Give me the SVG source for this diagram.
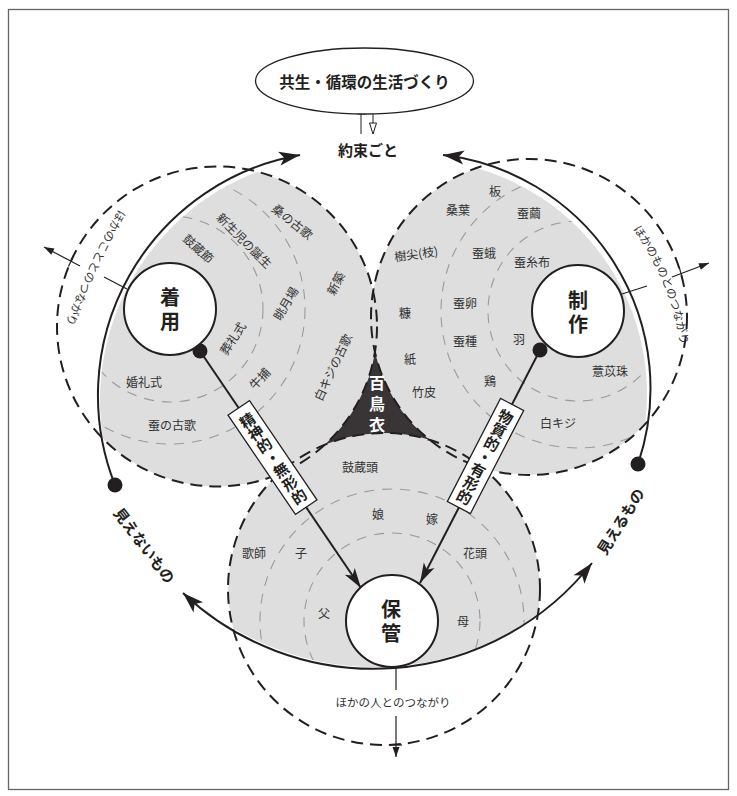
<svg xmlns="http://www.w3.org/2000/svg" width="737" height="796" viewBox="0 0 737 796">
<style>
text { font-family: "Noto Sans CJK JP", "Noto Sans", sans-serif; }
.lbl { font-size: 12px; fill: #333; text-anchor: middle; dominant-baseline: central; }
.node-c { fill: #fff; stroke: #231f20; stroke-width: 2; }
.node-t { font-size: 20px; font-weight: bold; fill: #231f20; text-anchor: middle; dominant-baseline: central; writing-mode: vertical-rl; letter-spacing: 4px; }
.dash { fill: none; stroke: #231f20; stroke-width: 2; stroke-dasharray: 12 7; }
.idash { fill: none; stroke: #9a9a9a; stroke-width: 1.1; stroke-dasharray: 10 8; }
.lobe { fill: #dedede; }
.solid { fill: none; stroke: #231f20; stroke-width: 2; }
.thin { fill: none; stroke: #231f20; stroke-width: 1.2; }
.big { font-size: 15px; font-weight: bold; fill: #231f20; text-anchor: middle; dominant-baseline: central; }
.small { font-size: 11.5px; fill: #333; }
.box { fill: #fff; stroke: #231f20; stroke-width: 1.3; }
.boxt { font-size: 15px; font-weight: bold; fill: #231f20; text-anchor: middle; dominant-baseline: central; }
.dot { fill: #231f20; }
</style>
<defs>
  <marker id="ah" markerUnits="userSpaceOnUse" orient="auto-start-reverse" markerWidth="40" markerHeight="40" viewBox="-30 -20 40 40" refX="0" refY="0" overflow="visible">
    <path d="M0,0 L-21,-7 L-16,0 L-21,7 Z" fill="#231f20"/>
  </marker>
  <marker id="ahm" markerUnits="userSpaceOnUse" orient="auto" markerWidth="40" markerHeight="40" viewBox="-30 -20 40 40" refX="0" refY="0" overflow="visible">
    <path d="M0,0 L-20,-6 L-15,0 L-20,6 Z" fill="#231f20"/>
  </marker>
  <marker id="ahs" markerUnits="userSpaceOnUse" orient="auto" markerWidth="20" markerHeight="20" viewBox="-15 -10 20 20" refX="0" refY="0" overflow="visible">
    <path d="M0,0 L-10,-3.5 L-10,3.5 Z" fill="#231f20"/>
  </marker>
  <clipPath id="clipL"><circle cx="344" cy="400" r="244"/></clipPath>
  <clipPath id="clipR"><circle cx="412" cy="394" r="235"/></clipPath>
  <clipPath id="clipB"><circle cx="375" cy="389" r="278"/></clipPath>
  <clipPath id="clipC1"><circle cx="217" cy="326.5" r="160"/></clipPath>
  <clipPath id="clipC2"><circle cx="529" cy="317" r="158"/></clipPath>
  <clipPath id="clipC3"><circle cx="384" cy="589" r="156"/></clipPath>
  <path id="tpL" d="M124,200 Q88,262 62,334"/>
  <path id="tpR" d="M630,225 Q672,282 681,350"/>
</defs>

<rect x="8.5" y="9.5" width="720" height="780" fill="#fff" stroke="#666" stroke-width="1.3"/>

<!-- lobes -->
<g id="lobe-chakuyou" clip-path="url(#clipL)">
  <g clip-path="url(#clipC1)">
    <circle class="lobe" cx="217" cy="326.5" r="160"/>
    <circle class="idash" cx="170" cy="309" r="93"/>
    <circle class="idash" cx="170" cy="309" r="135"/>
  </g>
</g>
<g id="lobe-seisaku" clip-path="url(#clipR)">
  <g clip-path="url(#clipC2)">
    <circle class="lobe" cx="529" cy="317" r="158"/>
    <circle class="idash" cx="578" cy="311" r="90"/>
    <circle class="idash" cx="578" cy="311" r="137"/>
  </g>
</g>
<g id="lobe-hokan" clip-path="url(#clipB)">
  <g clip-path="url(#clipC3)">
    <circle class="lobe" cx="384" cy="589" r="156"/>
    <circle class="idash" cx="392" cy="621" r="88"/>
    <circle class="idash" cx="392" cy="621" r="132"/>
  </g>
</g>

<g id="node-hyakuchoui">
  <path d="M375,352 A158,158 0 0 0 429.4,439.7 A156,156 0 0 0 325,444.6 A160,160 0 0 0 375,352 Z" fill="#393536"/>
  <text x="377" y="406.5" font-size="16" font-weight="bold" fill="#fff" text-anchor="middle" dominant-baseline="central" writing-mode="vertical-rl" letter-spacing="5">百鳥衣</text>
</g>

<g id="dashed-circles">
  <circle class="dash" cx="217" cy="326.5" r="160"/>
  <circle class="dash" cx="529" cy="317" r="158"/>
  <circle class="dash" cx="384" cy="589" r="156"/>
</g>

<!-- lobe labels -->
<g id="labels-chakuyou">
  <text class="lbl" transform="translate(293,221) rotate(38)">桑の古歌</text>
  <text class="lbl" transform="translate(245,240) rotate(45)">新生児の誕生</text>
  <text class="lbl" transform="translate(199,248) rotate(42)">鼓蔵節</text>
  <text class="lbl" transform="translate(335,283) rotate(-62)">新築</text>
  <text class="lbl" transform="translate(285,303) rotate(-59)">眺月場</text>
  <text class="lbl" transform="translate(332,367) rotate(-65)">白キジの古歌</text>
  <text class="lbl" transform="translate(232,338) rotate(-57)">葬礼式</text>
  <text class="lbl" transform="translate(259,378) rotate(-47)">牛捕</text>
  <text class="lbl" x="144" y="381">婚礼式</text>
  <text class="lbl" x="172" y="424">蚕の古歌</text>
</g>
<g id="labels-seisaku">
  <text class="lbl" x="495" y="190">板</text>
  <text class="lbl" x="458" y="209">桑葉</text>
  <text class="lbl" x="529" y="212">蚕繭</text>
  <text class="lbl" transform="translate(416,253) rotate(-8)">樹尖(枝)</text>
  <text class="lbl" x="484" y="252">蚕蛾</text>
  <text class="lbl" x="532" y="261">蚕糸布</text>
  <text class="lbl" x="465" y="302">蚕卵</text>
  <text class="lbl" x="405" y="312">糠</text>
  <text class="lbl" x="465" y="340">蚕種</text>
  <text class="lbl" x="519" y="338">羽</text>
  <text class="lbl" x="410" y="358">紙</text>
  <text class="lbl" x="490" y="380">鶏</text>
  <text class="lbl" x="424" y="391">竹皮</text>
  <text class="lbl" x="610" y="370">薏苡珠</text>
  <text class="lbl" x="558" y="422">白キジ</text>
</g>
<g id="labels-hokan">
  <text class="lbl" x="360" y="466">鼓蔵頭</text>
  <text class="lbl" x="378" y="513">娘</text>
  <text class="lbl" x="432" y="518">嫁</text>
  <text class="lbl" x="254" y="552">歌師</text>
  <text class="lbl" x="301" y="552">子</text>
  <text class="lbl" x="475" y="552">花頭</text>
  <text class="lbl" x="324" y="612">父</text>
  <text class="lbl" x="463" y="620">母</text>
</g>

<!-- connectors -->
<g id="connectors">
  <path class="solid" d="M115,485 A244,244 0 0 1 300,155" marker-end="url(#ah)"/>
  <path class="solid" d="M638,464 A235,235 0 0 0 443,155" marker-end="url(#ah)"/>
  <path class="solid" d="M183,593 A278,278 0 0 0 592,563" marker-start="url(#ah)" marker-end="url(#ah)"/>
  <circle class="dot" cx="115" cy="485" r="7.5"/>
  <circle class="dot" cx="638" cy="464" r="7.5"/>

  <line class="solid" x1="200" y1="351" x2="361" y2="588" marker-end="url(#ahm)"/>
  <line class="solid" x1="540" y1="350" x2="420" y2="583" marker-end="url(#ahm)"/>
  <circle class="dot" cx="200" cy="351" r="7.5"/>
  <circle class="dot" cx="540" cy="350" r="7.5"/>

  <g transform="translate(272.5,457.5) rotate(-34.2)">
    <rect class="box" x="-13" y="-60" width="26" height="120"/>
    <text class="boxt"><tspan x="0" y="-46">精</tspan><tspan x="0" y="-31">神</tspan><tspan x="0" y="-16">的</tspan><tspan x="0" y="-1">・</tspan><tspan x="0" y="14">無</tspan><tspan x="0" y="30">形</tspan><tspan x="0" y="46">的</tspan></text>
  </g>
  <g transform="translate(485.5,456) rotate(27.3)">
    <rect class="box" x="-13" y="-58" width="26" height="116"/>
    <text class="boxt"><tspan x="0" y="-45">物</tspan><tspan x="0" y="-30">質</tspan><tspan x="0" y="-15">的</tspan><tspan x="0" y="0">・</tspan><tspan x="0" y="15">有</tspan><tspan x="0" y="30">形</tspan><tspan x="0" y="45">的</tspan></text>
  </g>

  <!-- other links -->
  <line class="thin" x1="127" y1="289" x2="104" y2="277"/>
  <line class="thin" x1="80" y1="266" x2="44" y2="247" marker-end="url(#ahs)"/>
  <line class="thin" x1="68.5" y1="266.5" x2="73.5" y2="255.5"/>
  <line class="thin" x1="622" y1="294" x2="647" y2="286"/>
  <line class="thin" x1="672" y1="277" x2="709" y2="263" marker-end="url(#ahs)"/>
  <line class="thin" x1="679.4" y1="267.8" x2="682.6" y2="279.4"/>
  <line class="thin" x1="396" y1="668" x2="396" y2="690"/>
  <line class="thin" x1="396" y1="716" x2="396" y2="757" marker-end="url(#ahs)"/>
  <line class="thin" x1="390" y1="745" x2="402" y2="745"/>

  <!-- title arrows -->
  <line x1="361" y1="134" x2="361" y2="108" stroke="#231f20" stroke-width="1"/>
  <polygon points="361,103 357.5,114 364.5,114" fill="#fff" stroke="#231f20" stroke-width="1"/>
  <line x1="373" y1="103" x2="373" y2="128" stroke="#231f20" stroke-width="1"/>
  <polygon points="373,134 369.5,123 376.5,123" fill="#fff" stroke="#231f20" stroke-width="1"/>
</g>

<!-- nodes -->
<g id="node-title">
  <ellipse cx="364.5" cy="81" rx="109" ry="33" fill="#fff" stroke="#231f20" stroke-width="1.3"/>
  <text x="364.5" y="81" font-size="15.5" font-weight="bold" fill="#231f20" text-anchor="middle" dominant-baseline="central">共生・循環の生活づくり</text>
</g>
<g id="node-yakusoku">
  <text x="368" y="149" font-size="15" font-weight="bold" fill="#231f20" text-anchor="middle" dominant-baseline="central">約束ごと</text>
</g>
<g id="node-chakuyou">
  <circle class="node-c" cx="170" cy="309" r="46"/>
  <text class="node-t" x="170" y="311">着用</text>
</g>
<g id="node-seisaku">
  <circle class="node-c" cx="578" cy="311" r="46"/>
  <text class="node-t" x="578" y="314">制作</text>
</g>
<g id="node-hokan">
  <circle class="node-c" cx="392" cy="621" r="46"/>
  <text class="node-t" x="391" y="623">保管</text>
</g>

<g id="side-labels">
  <text class="big" transform="translate(145,545) rotate(53)">見えないもの</text>
  <text class="big" font-size="16" transform="translate(620,521) rotate(-58)">見えるもの</text>
  <text class="small"><textPath href="#tpL" startOffset="50%" text-anchor="middle">ほかのこととのつながり</textPath></text>
  <text class="small"><textPath href="#tpR" startOffset="50%" text-anchor="middle">ほかのものとのつながり</textPath></text>
  <text class="small" x="393" y="702" text-anchor="middle" dominant-baseline="central">ほかの人とのつながり</text>
</g>
</svg>
